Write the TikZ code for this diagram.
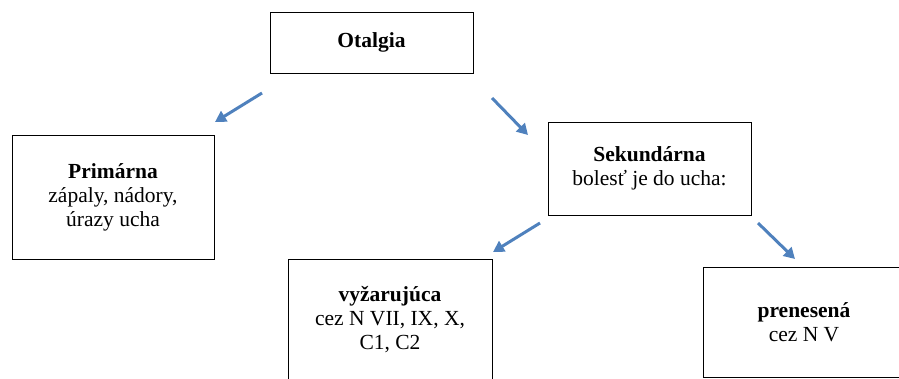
\documentclass[tikz,border=0pt]{standalone}
\usepackage{fontspec}
\setmainfont{Liberation Serif}
\usetikzlibrary{arrows.meta}
\definecolor{arrowblue}{RGB}{79,129,189}

\begin{document}
\begin{tikzpicture}[x=1pt,y=-1pt,
  box/.style={draw,line width=0.8pt,align=center,inner sep=0pt,minimum width=203pt,font=\fontsize{21.5}{24}\selectfont},
  link/.style={arrowblue,line width=3pt,-{Triangle[length=11pt,width=12pt]}}]
  \useasboundingbox (0,0) rectangle (899,378);
  \node[box,minimum height=61pt] (otalgia) at (371.5,42.5) {\textbf{Otalgia}};
  \node[box,minimum width=202pt,minimum height=124pt] (primarna) at (113,197)
    {\textbf{Primárna}\\zápaly, nádory,\\úrazy ucha};
  \node[box,minimum height=93pt] (sekundarna) at (649.5,168.5)
    {\textbf{Sekundárna}\\bolesť je do ucha:};
  \node[box,minimum width=204pt,minimum height=122pt] (vyzarujuca) at (390,320)
    {\textbf{vyžarujúca}\\cez N VII, IX, X,\\C1, C2};
  \node[box,minimum width=202pt,minimum height=110pt] (prenesena) at (804,322)
    {\textbf{prenesená}\\cez N V};
  \coordinate (a1) at (262,93);  \coordinate (b1) at (215,122);
  \coordinate (a2) at (492,98);  \coordinate (b2) at (528,135);
  \coordinate (a3) at (540,223); \coordinate (b3) at (493,252);
  \coordinate (a4) at (758,223); \coordinate (b4) at (795,259);
  \draw[link] (a1) -- (b1);
  \draw[link] (a2) -- (b2);
  \draw[link] (a3) -- (b3);
  \draw[link] (a4) -- (b4);
\end{tikzpicture}
\end{document}
